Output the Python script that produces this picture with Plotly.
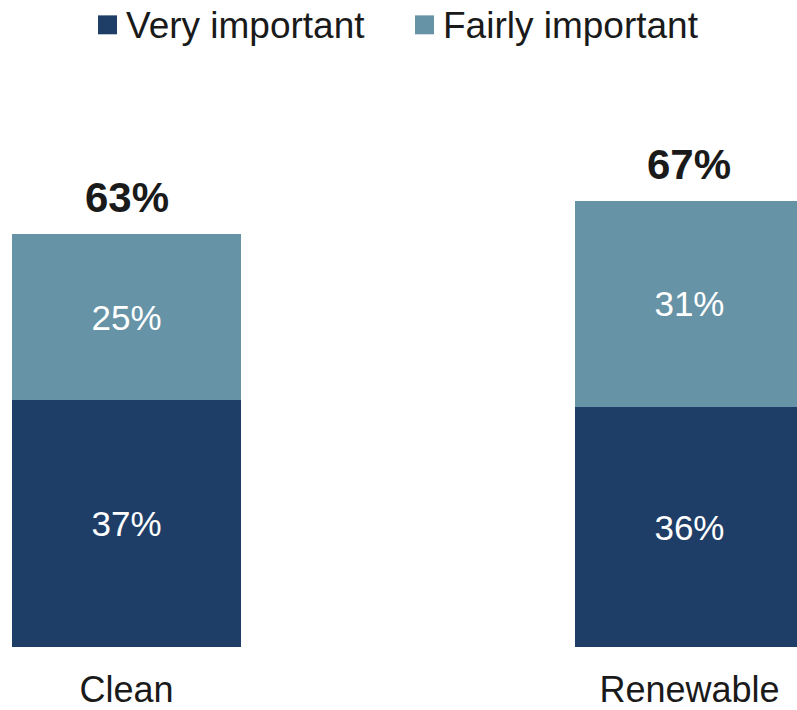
import plotly.graph_objects as go

categories = ["Clean", "Renewable"]
very_important = [37, 36]
fairly_important = [25, 31]
totals = [63, 67]
series_names = ["Very important", "Fairly important"]

DARK = "#1e3e68"
LIGHT = "#6693a6"
FONT = "Liberation Sans, Arial, sans-serif"
INK = "#1a1a1a"

W, H = 797, 710
M_TOP, M_BOT = 114, 61
PLOT_H = H - M_TOP - M_BOT

fig = go.Figure()
for name, vals, color in zip(series_names, [very_important, fairly_important], [DARK, LIGHT]):
    fig.add_trace(go.Bar(
        x=categories, y=vals, name=name,
        marker=dict(color=color, line=dict(width=0)),
        text=[f"{v}%" for v in vals],
        textposition="inside", insidetextanchor="middle",
        textfont=dict(color="white", size=35, family=FONT),
        width=0.4067,
    ))

# Total labels above each stack
for cat, v, f, t in zip(categories, very_important, fairly_important, totals):
    fig.add_annotation(
        x=cat, y=v + f, text=f"<b>{t}%</b>", showarrow=False,
        yanchor="bottom", yshift=11,
        font=dict(size=42, color=INK, family=FONT),
    )


def px_x(px):
    return px / W


def px_y(py):
    return (H - M_BOT - py) / PLOT_H


# Legend: colour swatch followed by its label
legend_items = [(98, series_names[0], DARK), (415, series_names[1], LIGHT)]
for x0, name, color in legend_items:
    fig.add_shape(
        type="rect", xref="paper", yref="paper",
        x0=px_x(x0), x1=px_x(x0 + 19), y0=px_y(34), y1=px_y(15),
        fillcolor=color, line=dict(width=0),
    )
    fig.add_annotation(
        xref="paper", yref="paper", x=px_x(x0 + 26), y=px_y(25),
        xanchor="left", yanchor="middle", showarrow=False,
        text=name, font=dict(size=37, color=INK, family=FONT),
    )

fig.update_layout(
    barmode="stack",
    width=W, height=H,
    margin=dict(l=0, r=0, t=M_TOP, b=M_BOT),
    paper_bgcolor="white", plot_bgcolor="white",
    font=dict(family=FONT, color=INK),
    uniformtext=dict(minsize=10, mode="show"),
    showlegend=False,
    xaxis=dict(
        range=[-0.2247, 1.191], showgrid=False, showline=False, zeroline=False,
        ticks="", tickfont=dict(size=36, family=FONT, color=INK),
        ticklabelstandoff=18,
    ),
    yaxis=dict(
        range=[0, 80], visible=False, showgrid=False, zeroline=False,
    ),
)

fig.write_html("out.html")
